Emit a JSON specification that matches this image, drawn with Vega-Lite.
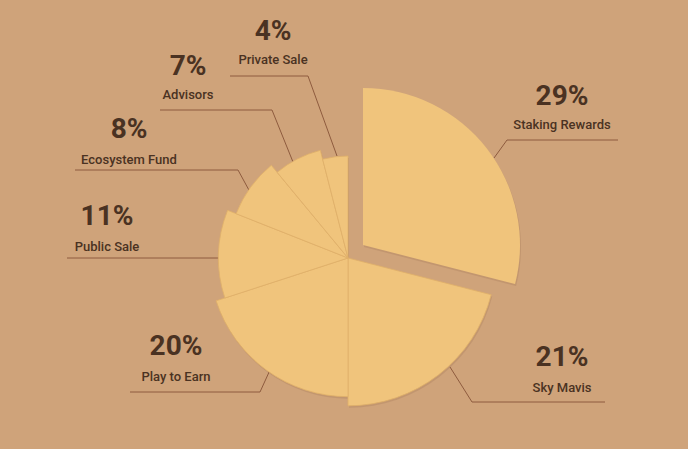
{
  "$schema": "https://vega.github.io/schema/vega-lite/v6.json",
  "width": 688,
  "height": 449,
  "autosize": {"type": "fit", "contains": "padding"},
  "padding": 0,
  "background": "#CFA37A",
  "config": {"view": {"stroke": null}, "font": "Roboto"},
  "datasets": {
    "slices": [
      {"name": "Staking Rewards", "value": 29, "idx": 1},
      {"name": "Sky Mavis", "value": 21, "idx": 2},
      {"name": "Play to Earn", "value": 20, "idx": 3},
      {"name": "Public Sale", "value": 11, "idx": 4},
      {"name": "Ecosystem Fund", "value": 8, "idx": 5},
      {"name": "Advisors", "value": 7, "idx": 6},
      {"name": "Private Sale", "value": 4, "idx": 7}
    ],
    "labels": [
      {"name": "Staking Rewards", "pct": "29%", "lx": 562, "py": 97, "ny": 125},
      {"name": "Sky Mavis", "pct": "21%", "lx": 562, "py": 358, "ny": 388},
      {"name": "Play to Earn", "pct": "20%", "lx": 176, "py": 347, "ny": 377},
      {"name": "Public Sale", "pct": "11%", "lx": 107, "py": 217, "ny": 247},
      {"name": "Ecosystem Fund", "pct": "8%", "lx": 129, "py": 130, "ny": 160},
      {"name": "Advisors", "pct": "7%", "lx": 188, "py": 67, "ny": 95},
      {"name": "Private Sale", "pct": "4%", "lx": 273, "py": 32, "ny": 60}
    ],
    "leaders": [
      {"name": "Staking Rewards", "o": 0, "x": 618, "y": 140},
      {"name": "Staking Rewards", "o": 1, "x": 507, "y": 140},
      {"name": "Staking Rewards", "o": 2, "x": 494, "y": 158},
      {"name": "Sky Mavis", "o": 0, "x": 605, "y": 402},
      {"name": "Sky Mavis", "o": 1, "x": 472, "y": 402},
      {"name": "Sky Mavis", "o": 2, "x": 450, "y": 367},
      {"name": "Play to Earn", "o": 0, "x": 130, "y": 392},
      {"name": "Play to Earn", "o": 1, "x": 260, "y": 392},
      {"name": "Play to Earn", "o": 2, "x": 270, "y": 370},
      {"name": "Public Sale", "o": 0, "x": 67, "y": 258},
      {"name": "Public Sale", "o": 1, "x": 221, "y": 258},
      {"name": "Ecosystem Fund", "o": 0, "x": 75, "y": 170},
      {"name": "Ecosystem Fund", "o": 1, "x": 238, "y": 170},
      {"name": "Ecosystem Fund", "o": 2, "x": 250, "y": 192},
      {"name": "Advisors", "o": 0, "x": 160, "y": 110},
      {"name": "Advisors", "o": 1, "x": 272, "y": 110},
      {"name": "Advisors", "o": 2, "x": 293, "y": 162},
      {"name": "Private Sale", "o": 0, "x": 230, "y": 76},
      {"name": "Private Sale", "o": 1, "x": 308, "y": 76},
      {"name": "Private Sale", "o": 2, "x": 337, "y": 156}
    ]
  },
  "layer": [
    {
      "data": {"name": "leaders"},
      "mark": {"type": "line", "color": "#8E5B3E", "strokeWidth": 1},
      "encoding": {
        "x": {"field": "x", "type": "quantitative", "scale": {"domain": [0, 688], "nice": false, "zero": false}, "axis": null},
        "y": {"field": "y", "type": "quantitative", "scale": {"domain": [0, 449], "nice": false, "zero": false, "reverse": true}, "axis": null},
        "detail": {"field": "name"},
        "order": {"field": "o"}
      }
    },
    {
      "data": {"name": "slices"},
      "transform": [{"stack": "value", "groupby": [], "sort": [{"field": "idx"}], "as": ["t0", "t1"]}],
      "layer": [
        {
          "mark": {"type": "arc", "color": "#9A7050"},
          "encoding": {
            "x": {"datum": 349, "type": "quantitative", "scale": {"domain": [0, 688], "nice": false, "zero": false}, "axis": null},
            "y": {"datum": 260, "type": "quantitative", "scale": {"domain": [0, 449], "nice": false, "zero": false, "reverse": true}, "axis": null},
            "theta": {"field": "t0", "type": "quantitative", "stack": null, "scale": {"domain": [0, 100], "range": [0, 6.283185307179586]}},
            "theta2": {"field": "t1"},
            "radius": {"field": "idx", "type": "quantitative", "stack": null, "scale": {"type": "linear", "zero": false, "domain": [1, 7], "range": [157, 102]}, "legend": null},
            "radius2": {"value": 0},
            "opacity": {"condition": {"test": "datum.name === 'Staking Rewards'", "value": 0}, "value": 0.25}
          }
        },
        {
          "mark": {"type": "arc", "color": "#9A7050"},
          "encoding": {
            "x": {"datum": 364, "type": "quantitative", "scale": {"domain": [0, 688], "nice": false, "zero": false}, "axis": null},
            "y": {"datum": 247, "type": "quantitative", "scale": {"domain": [0, 449], "nice": false, "zero": false, "reverse": true}, "axis": null},
            "theta": {"field": "t0", "type": "quantitative", "stack": null, "scale": {"domain": [0, 100], "range": [0, 6.283185307179586]}},
            "theta2": {"field": "t1"},
            "radius": {"field": "idx", "type": "quantitative", "stack": null, "scale": {"type": "linear", "zero": false, "domain": [1, 7], "range": [157, 102]}, "legend": null},
            "radius2": {"value": 0},
            "opacity": {"condition": {"test": "datum.name === 'Staking Rewards'", "value": 0.25}, "value": 0}
          }
        },
        {
          "mark": {"type": "arc", "color": "#F0C47C", "stroke": "#E0B06A", "strokeWidth": 0.8},
          "encoding": {
            "x": {"datum": 348, "type": "quantitative", "scale": {"domain": [0, 688], "nice": false, "zero": false}, "axis": null},
            "y": {"datum": 258, "type": "quantitative", "scale": {"domain": [0, 449], "nice": false, "zero": false, "reverse": true}, "axis": null},
            "theta": {"field": "t0", "type": "quantitative", "stack": null, "scale": {"domain": [0, 100], "range": [0, 6.283185307179586]}},
            "theta2": {"field": "t1"},
            "radius": {"field": "idx", "type": "quantitative", "stack": null, "scale": {"type": "linear", "zero": false, "domain": [1, 7], "range": [157, 102]}, "legend": null},
            "radius2": {"value": 0},
            "opacity": {"condition": {"test": "datum.name === 'Staking Rewards'", "value": 0}, "value": 1}
          }
        },
        {
          "mark": {"type": "arc", "color": "#F0C47C"},
          "encoding": {
            "x": {"datum": 363, "type": "quantitative", "scale": {"domain": [0, 688], "nice": false, "zero": false}, "axis": null},
            "y": {"datum": 245, "type": "quantitative", "scale": {"domain": [0, 449], "nice": false, "zero": false, "reverse": true}, "axis": null},
            "theta": {"field": "t0", "type": "quantitative", "stack": null, "scale": {"domain": [0, 100], "range": [0, 6.283185307179586]}},
            "theta2": {"field": "t1"},
            "radius": {"field": "idx", "type": "quantitative", "stack": null, "scale": {"type": "linear", "zero": false, "domain": [1, 7], "range": [157, 102]}, "legend": null},
            "radius2": {"value": 0},
            "opacity": {"condition": {"test": "datum.name === 'Staking Rewards'", "value": 1}, "value": 0}
          }
        }
      ]
    },
    {
      "data": {"name": "labels"},
      "mark": {"type": "text", "font": "Roboto", "fontSize": 28, "fontWeight": "bold", "color": "#4A3222", "baseline": "middle", "align": "center"},
      "encoding": {
        "x": {"field": "lx", "type": "quantitative", "scale": {"domain": [0, 688], "nice": false, "zero": false}, "axis": null},
        "y": {"field": "py", "type": "quantitative", "scale": {"domain": [0, 449], "nice": false, "zero": false, "reverse": true}, "axis": null},
        "text": {"field": "pct"}
      }
    },
    {
      "data": {"name": "labels"},
      "mark": {"type": "text", "font": "Roboto", "fontSize": 13, "fontWeight": 500, "color": "#4A3222", "baseline": "middle", "align": "center"},
      "encoding": {
        "x": {"field": "lx", "type": "quantitative", "scale": {"domain": [0, 688], "nice": false, "zero": false}, "axis": null},
        "y": {"field": "ny", "type": "quantitative", "scale": {"domain": [0, 449], "nice": false, "zero": false, "reverse": true}, "axis": null},
        "text": {"field": "name"}
      }
    }
  ]
}
